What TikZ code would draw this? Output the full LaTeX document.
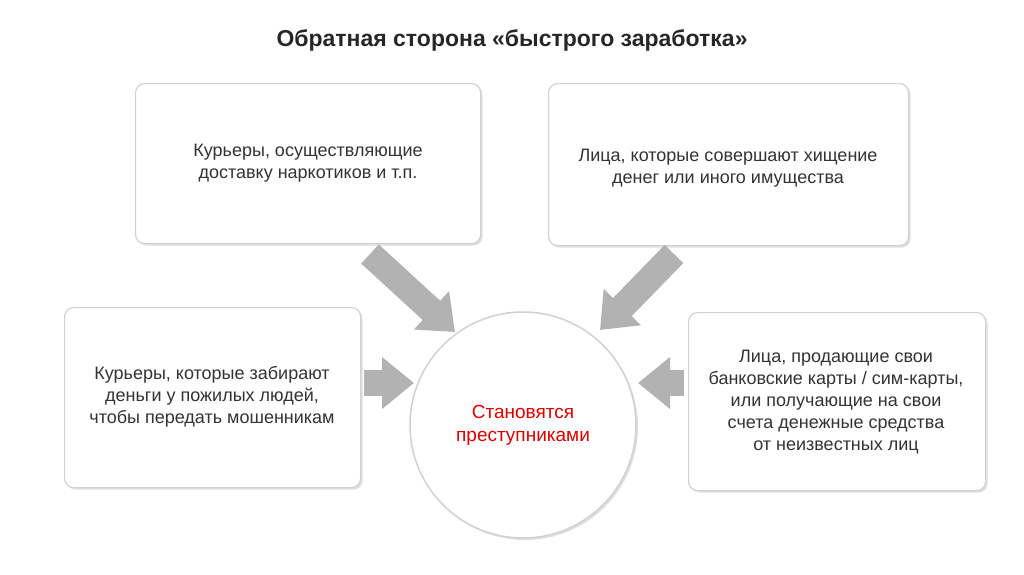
\documentclass[tikz,border=0pt]{standalone}
\usepackage{fontspec}
\setmainfont{Liberation Sans}
\usetikzlibrary{arrows.meta,shadows}
\definecolor{txt}{HTML}{333333}
\tikzset{
 card/.style={draw=black!18,line width=1.2pt,rounded corners=9pt,fill=white,drop shadow={shadow xshift=2pt,shadow yshift=-2pt,opacity=0.25},anchor=north west},
 lbl/.style={text=txt,font=\fontsize{18}{22}\selectfont,align=center},
 blk/.style={line width=26pt,color=black!30,-{Triangle[width=50pt,length=32pt]}},
}
\begin{document}
\begin{tikzpicture}[x=1pt,y=-1pt]
\useasboundingbox (0,0) rectangle (1024,574);
\node[font=\bfseries\fontsize{23}{26}\selectfont,text=black!85] (title) at (512,40) {Обратная сторона «быстрого заработка»};
\node[card,minimum width=345,minimum height=160] (b1) at (135,83) {};
\node[lbl] (t1) at (308,163) {Курьеры, осуществляющие\\доставку наркотиков и т.п.};
\node[card,minimum width=360,minimum height=162] (b2) at (548,83) {};
\node[lbl] (t2) at (728,168) {Лица, которые совершают хищение\\денег или иного имущества};
\node[card,minimum width=296,minimum height=180] (b3) at (64,307) {};
\node[lbl] (t3) at (212,397) {Курьеры, которые забирают\\деньги у пожилых людей,\\чтобы передать мошенникам};
\node[card,minimum width=297,minimum height=178] (b4) at (688,312) {};
\node[lbl] (t4) at (836,402) {Лица, продающие свои\\банковские карты / сим-карты,\\или получающие на свои\\счета денежные средства\\от неизвестных лиц};
\coordinate (a1s) at (370,254); \coordinate (a1e) at (455,332);
\coordinate (a2s) at (674,254); \coordinate (a2e) at (600,330);
\coordinate (a3s) at (364,383); \coordinate (a3e) at (414,383);
\coordinate (a4s) at (684,383); \coordinate (a4e) at (638,383);
\draw[blk] (a1s) -- (a1e);
\draw[blk] (a2s) -- (a2e);
\draw[blk] (a3s) -- (a3e);
\draw[blk] (a4s) -- (a4e);
\node[circle,draw=black!18,line width=1.5pt,fill=white,minimum size=226,drop shadow={shadow xshift=2pt,shadow yshift=-2pt,opacity=0.25},align=center,text=red!85!black,font=\fontsize{19}{23}\selectfont] (c) at (523,425) {Становятся\\преступниками};
\end{tikzpicture}
\end{document}
